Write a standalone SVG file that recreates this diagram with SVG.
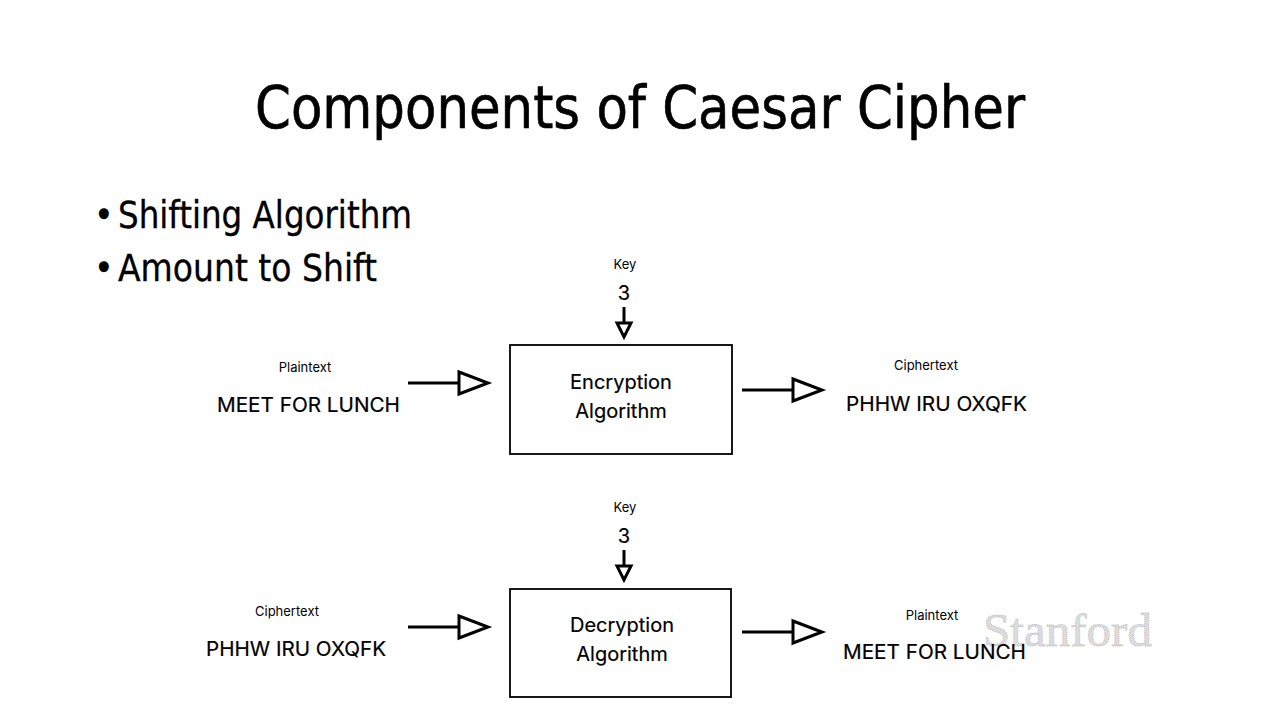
<svg xmlns="http://www.w3.org/2000/svg" xmlns:xlink="http://www.w3.org/1999/xlink" width="1280" height="720" viewBox="0 0 1280 720">
<style>
.title{font-family:"DejaVu Sans Condensed","DejaVu Sans",sans-serif;font-stretch:condensed;font-size:58px;fill:#000;stroke:#000;stroke-width:0.6}
.bullet{font-family:"DejaVu Sans Condensed","DejaVu Sans",sans-serif;font-stretch:condensed;font-size:37px;fill:#000;stroke:#000;stroke-width:0.3}
.small{font-family:Inter,"Noto Sans",sans-serif;font-size:13px;fill:#000;text-anchor:middle}
.mid{font-family:Inter,"Noto Sans",sans-serif;font-size:20px;fill:#000;stroke:#000;stroke-width:0.2}
.box{fill:#fff;stroke:#000;stroke-width:1.8}
.line{stroke:#000;stroke-width:3;fill:none}
.head{fill:#fff;stroke:#000;stroke-width:3;stroke-linejoin:miter}
.wm{font-family:"Liberation Serif",serif;font-size:46px;fill:#dcdcdc;stroke:#b8b8b8;stroke-width:0.8;stroke-dasharray:1 1}
</style>
<defs>
<path id="hHead" d="M0,-11 L29,0 L0,11 Z"/>
<path id="vHead" d="M-7,0 L7,0 L0,14 Z"/>
</defs>
<rect width="1280" height="720" fill="#fff"/>
<text class="title" x="255" y="128" textLength="770" lengthAdjust="spacingAndGlyphs">Components of Caesar Cipher</text>
<text class="bullet" x="94" y="228" font-size="30">•</text>
<text class="bullet" x="118" y="228" textLength="294" lengthAdjust="spacingAndGlyphs">Shifting Algorithm</text>
<text class="bullet" x="94" y="281" font-size="30">•</text>
<text class="bullet" x="118" y="281" textLength="259" lengthAdjust="spacingAndGlyphs">Amount to Shift</text>

<g id="connectors">
<line class="line" x1="624" y1="307" x2="624" y2="323"/>
<use xlink:href="#vHead" class="head" x="624" y="323"/>
<line class="line" x1="408" y1="383" x2="459" y2="383"/>
<use xlink:href="#hHead" class="head" x="459" y="383"/>
<line class="line" x1="742" y1="390" x2="793" y2="390"/>
<use xlink:href="#hHead" class="head" x="793" y="390"/>
<line class="line" x1="624" y1="550" x2="624" y2="566"/>
<use xlink:href="#vHead" class="head" x="624" y="566"/>
<line class="line" x1="408" y1="627" x2="459" y2="627"/>
<use xlink:href="#hHead" class="head" x="459" y="627"/>
<line class="line" x1="742" y1="632" x2="793" y2="632"/>
<use xlink:href="#hHead" class="head" x="793" y="632"/>
</g>

<g id="key1">
<text class="small" x="625" y="269">Key</text>
<text class="mid" x="624" y="300" text-anchor="middle">3</text>
</g>
<g id="encryption">
<rect class="box" x="510" y="345" width="222" height="109"/>
<text class="mid" x="621" y="389" text-anchor="middle">Encryption</text>
<text class="mid" x="621" y="418" text-anchor="middle">Algorithm</text>
</g>
<g id="plaintext1">
<text class="small" x="305" y="372">Plaintext</text>
<text class="mid" x="217" y="412" textLength="183" lengthAdjust="spacingAndGlyphs">MEET FOR LUNCH</text>
</g>
<g id="ciphertext1">
<text class="small" x="926" y="370">Ciphertext</text>
<text class="mid" x="846" y="411" textLength="181" lengthAdjust="spacingAndGlyphs">PHHW IRU OXQFK</text>
</g>

<g id="key2">
<text class="small" x="625" y="512">Key</text>
<text class="mid" x="624" y="543" text-anchor="middle">3</text>
</g>
<g id="decryption">
<rect class="box" x="510" y="589" width="221" height="108"/>
<text class="mid" x="622" y="632" text-anchor="middle">Decryption</text>
<text class="mid" x="622" y="661" text-anchor="middle">Algorithm</text>
</g>
<g id="ciphertext2">
<text class="small" x="287" y="616">Ciphertext</text>
<text class="mid" x="206" y="656" textLength="180" lengthAdjust="spacingAndGlyphs">PHHW IRU OXQFK</text>
</g>
<text class="wm" x="983" y="646" textLength="169" lengthAdjust="spacingAndGlyphs">Stanford</text>
<g id="plaintext2">
<text class="small" x="932" y="620">Plaintext</text>
<text class="mid" x="843" y="659" textLength="183" lengthAdjust="spacingAndGlyphs">MEET FOR LUNCH</text>
</g>
</svg>
